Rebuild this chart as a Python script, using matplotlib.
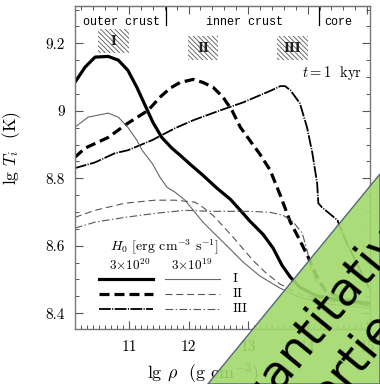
import numpy as np
import matplotlib
matplotlib.use("Agg")
import matplotlib.pyplot as plt
from matplotlib.patches import Rectangle, Polygon
from matplotlib.lines import Line2D
from matplotlib.ticker import MultipleLocator

plt.rcParams['font.family'] = 'serif'
plt.rcParams['font.serif'] = ['cmr10', 'DejaVu Serif']
plt.rcParams['mathtext.fontset'] = 'cm'
plt.rcParams['axes.formatter.use_mathtext'] = True
plt.rcParams['lines.scale_dashes'] = False
plt.rcParams['hatch.linewidth'] = 0.6
plt.rcParams['hatch.color'] = '#555555'

# curves: lg rho, lg T_i
# H0 = 3e20, source I
x_I20 = [10.09, 10.26, 10.43, 10.65, 10.82, 10.98, 11.13, 11.27, 11.40, 11.55, 11.72,
         11.86, 12.03, 12.24, 12.48, 12.70, 12.87, 13.03, 13.25, 13.42, 13.57, 13.71,
         13.87, 14.13, 14.55, 15.05]
y_I20 = [9.084, 9.129, 9.159, 9.161, 9.150, 9.120, 9.070, 9.016, 8.966, 8.921, 8.889,
         8.868, 8.841, 8.809, 8.770, 8.738, 8.705, 8.673, 8.634, 8.593, 8.542, 8.507,
         8.477, 8.453, 8.438, 8.430]
# H0 = 3e20, source II
x_II20 = [10.09, 10.26, 10.65, 10.98, 11.32, 11.52, 11.69, 11.86, 12.08, 12.24, 12.41,
          12.58, 12.73, 12.87, 13.03, 13.20, 13.37, 13.54, 13.71, 13.87, 14.01, 14.14,
          14.29, 14.63, 15.05]
y_II20 = [8.862, 8.889, 8.921, 8.963, 9.001, 9.040, 9.067, 9.084, 9.093, 9.084, 9.070,
          9.040, 9.001, 8.951, 8.912, 8.871, 8.824, 8.750, 8.670, 8.616, 8.566, 8.513,
          8.468, 8.438, 8.424]
# H0 = 3e20, source III
x_III20 = [10.09, 10.43, 10.76, 10.98, 11.39, 11.77, 12.08, 12.53, 12.92, 13.20, 13.40,
           13.54, 13.62, 13.71, 13.87, 13.99, 14.08, 14.16, 14.18, 14.24, 14.50, 14.66,
           14.83, 15.05]
y_III20 = [8.830, 8.847, 8.874, 8.883, 8.913, 8.948, 8.972, 9.001, 9.025, 9.046, 9.061,
           9.073, 9.073, 9.061, 9.022, 8.951, 8.874, 8.785, 8.726, 8.714, 8.676, 8.607,
           8.548, 8.468]
# H0 = 3e19, source I
x_I19 = [10.09, 10.31, 10.65, 10.82, 10.98, 11.13, 11.22, 11.39, 11.52, 11.64, 11.77,
         11.94, 12.08, 12.24, 12.48, 12.70, 12.92, 13.20, 13.54, 13.87, 14.38, 15.05]
y_I19 = [8.951, 8.981, 8.993, 8.981, 8.951, 8.913, 8.883, 8.844, 8.803, 8.773, 8.759,
         8.735, 8.705, 8.670, 8.628, 8.590, 8.551, 8.510, 8.474, 8.447, 8.427, 8.415]
# H0 = 3e19, source II
x_II19 = [10.09, 10.43, 10.93, 11.44, 11.77, 12.11, 12.24, 12.41, 12.58, 12.75, 12.92,
          13.08, 13.29, 13.54, 13.87, 14.38, 15.05]
y_II19 = [8.684, 8.705, 8.726, 8.735, 8.735, 8.729, 8.714, 8.690, 8.658, 8.625, 8.590,
          8.557, 8.521, 8.486, 8.456, 8.436, 8.424]
# H0 = 3e19, source III
x_III19 = [10.09, 10.43, 10.93, 11.44, 11.94, 12.36, 13.03, 13.37, 13.59, 13.76, 13.91,
           13.99, 14.04, 14.13, 14.38, 15.05]
y_III19 = [8.652, 8.670, 8.684, 8.696, 8.705, 8.702, 8.702, 8.699, 8.690, 8.670, 8.637,
           8.587, 8.548, 8.498, 8.453, 8.430]

# heater positions (lg rho range, lg T range)
src_names = ['I', 'II', 'III']
src_x = [(10.48, 11.00), (11.99, 12.50), (13.49, 14.01)]
src_y = [(9.170, 9.241), (9.150, 9.221), (9.150, 9.221)]

# layer boundaries
drip = 11.62
core = 14.19

fig = plt.figure(figsize=(3.8, 3.84), dpi=100)
ax = fig.add_axes([0.197, 0.143, 0.777, 0.841])

dash_thick = (0, (7.2, 3.6))
dd_thick = (0, (8.5, 1.0, 0.8, 1.0))
dash_thin = (0, (5.0, 2.8))
dd_thin = (0, (5.5, 1.8, 1.0, 1.8))

ax.plot(x_I20, y_I20, color='black', lw=2.3, solid_capstyle='butt')
ax.plot(x_II20, y_II20, color='black', lw=2.3, ls=dash_thick)
ax.plot(x_III20, y_III20, color='black', lw=1.3, ls=dd_thick)
ax.plot(x_I19, y_I19, color='#666666', lw=0.8)
ax.plot(x_II19, y_II19, color='#555555', lw=0.8, ls=dash_thin)
ax.plot(x_III19, y_III19, color='#555555', lw=0.8, ls=dd_thin)

# heater boxes
for name, (x0, x1), (y0, y1) in zip(src_names, src_x, src_y):
    ax.add_patch(Rectangle((x0, y0), x1 - x0, y1 - y0, facecolor='white',
                           edgecolor='#555555', lw=0, hatch='\\\\\\\\\\\\\\'))
    ax.text((x0 + x1) / 2, (y0 + y1) / 2, name, ha='center', va='center',
            fontsize=9, fontweight='bold', family='DejaVu Serif', color='#222222')

# layer boundaries and names
for xb in [drip, core]:
    ax.plot([xb, xb], [9.31, 9.254], color='black', lw=0.9)
ax.text(0.159, 0.952, 'outer crust', transform=ax.transAxes, ha='center', va='center',
        family='Liberation Mono', fontsize=8.5)
ax.text(0.576, 0.952, 'inner crust', transform=ax.transAxes, ha='center', va='center',
        family='Liberation Mono', fontsize=8.5)
ax.text(0.892, 0.952, 'core', transform=ax.transAxes, ha='center', va='center',
        family='Liberation Mono', fontsize=8.5)
ax.text(0.871, 0.793, r'$t=1\;$ kyr', transform=ax.transAxes, ha='center', va='center',
        fontsize=10.5)

# legend by hand
ax.text(0.302, 0.254, r'$H_0$ [erg cm$^{-3}$ s$^{-1}$]', transform=ax.transAxes,
        ha='center', va='center', fontsize=10)
ax.text(0.186, 0.198, r'3$\times$10$^{20}$', transform=ax.transAxes,
        ha='center', va='center', fontsize=9.5)
ax.text(0.397, 0.198, r'3$\times$10$^{19}$', transform=ax.transAxes,
        ha='center', va='center', fontsize=9.5)
leg_y = [0.155, 0.108, 0.062]
thick_styles = [('-', 2.3), (dash_thick, 2.3), (dd_thick, 1.3)]
thin_styles = [('-', '#666666'), (dash_thin, '#555555'), (dd_thin, '#555555')]
for yy, (ls1, lw1), (ls2, c2), name in zip(leg_y, thick_styles, thin_styles, src_names):
    ax.add_line(Line2D([0.081, 0.264], [yy, yy], transform=ax.transAxes, color='black',
                       lw=lw1, ls=ls1))
    ax.add_line(Line2D([0.305, 0.492], [yy, yy], transform=ax.transAxes, color=c2,
                       lw=0.8, ls=ls2))
    ax.text(0.536, yy, name, transform=ax.transAxes, ha='left', va='center', fontsize=10)

ax.set_xlim(10.09, 15.05)
ax.set_ylim(8.353, 9.31)
ax.xaxis.set_minor_locator(MultipleLocator(0.1))
ax.yaxis.set_minor_locator(MultipleLocator(0.05))
ax.set_xticks([11, 12, 13, 14, 15])
ax.set_xticklabels(['11', '12', '13', '14', '15'])
ax.set_yticks([8.4, 8.6, 8.8, 9.0, 9.2])
ax.set_yticklabels(['8.4', '8.6', '8.8', '9', '9.2'])
ax.tick_params(which='both', direction='in', top=False, right=True, labelsize=11,
               color='#555555')
ax.tick_params(which='major', length=6, width=0.8)
ax.tick_params(which='minor', length=3, width=0.7)
ax.tick_params(axis='x', pad=8)
ax.tick_params(axis='y', pad=7)
for s in ax.spines.values():
    s.set_color('#777777')
    s.set_linewidth(1.0)

# top axis has coarser minor ticks
top = ax.secondary_xaxis('top')
top.set_xticks([11, 12, 13, 14, 15])
top.set_xticklabels([])
top.xaxis.set_minor_locator(MultipleLocator(0.2))
top.tick_params(which='both', direction='in', color='#555555')
top.tick_params(which='major', length=6, width=0.8)
top.tick_params(which='minor', length=3, width=0.7)
top.spines['top'].set_color('#777777')

ax.set_xlabel(r'lg $\rho$  (g cm$^{-3}$)', fontsize=13)
ax.set_ylabel(r'lg $T_i$  (K)', fontsize=12.5)
ax.xaxis.label.set_horizontalalignment('left')
ax.xaxis.set_label_coords(0.244, -0.1)
ax.yaxis.set_label_coords(-0.175, 0.56)

# green corner banner
tri = Polygon([(0.547, 0.0), (1.0, 0.547), (1.0, 0.0)], closed=True,
              transform=fig.transFigure, facecolor=(0.63, 0.85, 0.42), alpha=0.9,
              edgecolor='#4a5878', lw=1.0, zorder=10)
fig.patches.append(tri)
for txt, (tx, ty), fs in [('Quantitative', (0.838, 0.16), 33.5),
                          ('Properties', (0.861, -0.016), 34)]:
    t = fig.text(tx, ty, txt, rotation=50.7, ha='center', va='center', fontsize=fs,
                 family='DejaVu Sans', color='black', zorder=11, rotation_mode='anchor')
    t.set_clip_path(tri)

fig.savefig('out.png', dpi=100)
